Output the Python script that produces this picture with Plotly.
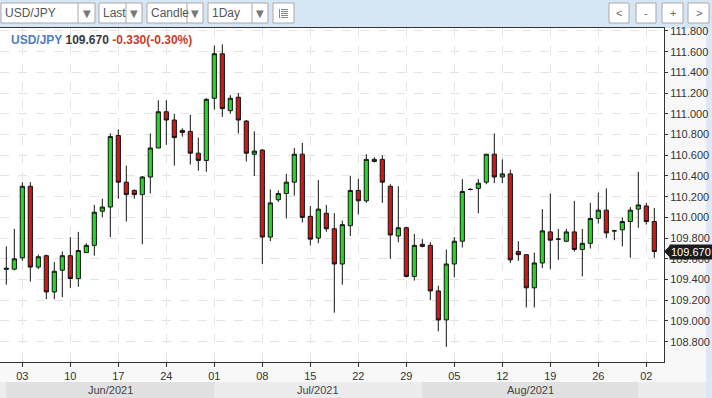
import pandas as pd
import plotly.graph_objects as go

# ---------------- data ----------------
all_days = pd.date_range("2021-06-01", "2021-09-03")
dates = [d.strftime("%Y-%m-%d") for d in all_days if d.weekday() != 5]

open_ = [109.51, 109.50, 109.61, 110.30, 109.52, 109.63, 109.28, 109.49, 109.63, 109.41,
         109.66, 109.73, 110.06, 110.10, 110.79, 110.34, 110.26, 110.22, 110.39, 110.67,
         111.02, 110.94, 110.84, 110.83, 110.62, 110.55, 111.15, 111.58, 111.03, 111.16,
         110.93, 110.61, 110.65, 109.81, 110.17, 110.23, 110.34, 110.61, 110.01, 109.80,
         110.04, 109.89, 109.55, 109.92, 110.26, 110.16, 110.54, 110.56, 110.30, 109.82,
         109.90, 109.43, 109.74, 109.73, 109.29, 109.01, 109.55, 109.77, 110.27, 110.28,
         110.34, 110.61, 110.39, 110.42, 109.67, 109.64, 109.32, 109.56, 109.86, 109.79,
         109.77, 109.86, 109.69, 109.75, 109.99, 110.07, 109.87, 109.88, 109.96, 110.08,
         110.11, 109.96]
high = [109.72, 109.89, 110.34, 110.34, 109.64, 109.64, 109.57, 109.67, 109.81, 109.86,
        109.75, 110.12, 110.18, 110.81, 110.85, 110.50, 110.27, 110.40, 110.81, 111.13,
        111.13, 111.00, 110.86, 110.99, 110.77, 111.15, 111.66, 111.67, 111.18, 111.20,
        110.94, 110.83, 110.66, 110.27, 110.26, 110.42, 110.67, 110.72, 110.11, 110.36,
        110.12, 110.04, 109.97, 110.40, 110.37, 110.61, 110.58, 110.60, 110.32, 110.30,
        109.91, 109.84, 109.79, 109.76, 109.34, 109.69, 109.81, 110.37, 110.28, 110.37,
        110.61, 110.81, 110.56, 110.46, 109.77, 109.64, 109.66, 110.08, 110.23, 109.89,
        109.89, 110.16, 109.89, 110.14, 110.24, 110.28, 109.88, 110.00, 110.10, 110.44,
        110.14, 110.09]
low = [109.35, 109.49, 109.58, 109.38, 109.50, 109.21, 109.21, 109.23, 109.32, 109.33,
       109.66, 109.63, 110.00, 109.81, 110.18, 109.96, 110.18, 109.74, 110.23, 110.67,
       110.70, 110.50, 110.78, 110.51, 110.45, 110.44, 111.04, 110.97, 111.00, 110.81,
       110.54, 110.40, 109.55, 109.77, 110.15, 109.99, 110.21, 109.95, 109.73, 109.75,
       109.86, 109.08, 109.35, 109.82, 110.03, 110.14, 110.53, 110.14, 109.60, 109.76,
       109.42, 109.39, 109.71, 109.20, 108.90, 108.75, 109.42, 109.71, 110.26, 110.04,
       110.32, 110.33, 110.33, 109.56, 109.58, 109.13, 109.13, 109.51, 109.50, 109.59,
       109.76, 109.67, 109.43, 109.70, 109.94, 109.80, 109.78, 109.72, 109.61, 109.90,
       109.93, 109.61]
close = [109.50, 109.60, 110.30, 109.52, 109.62, 109.28, 109.48, 109.63, 109.41, 109.68,
         109.73, 110.05, 110.10, 110.78, 110.34, 110.22, 110.22, 110.39, 110.67, 111.02,
         110.94, 110.77, 110.82, 110.62, 110.55, 111.14, 111.58, 111.05, 111.15, 110.94,
         110.62, 110.64, 109.81, 110.14, 110.23, 110.34, 110.61, 110.00, 109.79, 110.08,
         109.89, 109.55, 109.93, 110.26, 110.16, 110.56, 110.56, 110.34, 109.83, 109.90,
         109.43, 109.73, 109.72, 109.29, 109.01, 109.55, 109.77, 110.25, 110.27, 110.33,
         110.61, 110.39, 110.42, 109.59, 109.64, 109.32, 109.56, 109.87, 109.78, 109.79,
         109.86, 109.69, 109.75, 109.99, 110.07, 109.85, 109.87, 109.96, 110.07, 110.12,
         109.96, 109.67]

tick_dates = [d for d in dates if pd.Timestamp(d).weekday() == 3]
tick_text = [pd.Timestamp(d).strftime("%d") for d in tick_dates]
month_labels = ["Jun/2021", "Jul/2021", "Aug/2021"]

header_symbol = "USD/JPY"
header_last = "109.670"
header_change = "-0.330(-0.30%)"

# ---------------- geometry helpers (pixels -> paper) ----------------
W, H = 712, 398
ML, MR, MT, MB = 0, 48, 28, 36
PW, PH = W - ML - MR, H - MT - MB
X_RANGE = [-0.79, 82.21]
Y_RANGE = [108.6037, 111.8285]


def px(x):
    return (x - ML) / PW


def py(y):
    return (H - MB - y) / PH


def kx(k):
    return (k - X_RANGE[0]) / (X_RANGE[1] - X_RANGE[0])


FONT = "Liberation Sans, Arial, sans-serif"
GREEN = "#22da22"
RED = "#d81414"
EDGE = "#141414"

fig = go.Figure(go.Candlestick(
    x=dates, open=open_, high=high, low=low, close=close,
    increasing=dict(line=dict(color=EDGE, width=1), fillcolor=GREEN),
    decreasing=dict(line=dict(color=EDGE, width=1), fillcolor=RED),
    whiskerwidth=0, hoverinfo="skip", showlegend=False,
))

shapes = []
annotations = []

# toolbar background
shapes.append(dict(type="rect", xref="paper", yref="paper", x0=px(-5), x1=px(W + 5),
                   y0=py(28), y1=py(-5), fillcolor="#d7e6f5", line=dict(width=0), layer="below"))
# right light-blue strip
shapes.append(dict(type="rect", xref="paper", yref="paper", x0=px(706), x1=px(W + 5),
                   y0=py(H + 5), y1=py(28), fillcolor="#dce8f5", line=dict(width=0), layer="below"))
# month band row
shapes.append(dict(type="rect", xref="paper", yref="paper", x0=px(0), x1=px(706),
                   y0=py(H + 5), y1=py(382), fillcolor="#ececec", line=dict(width=0), layer="below"))

# month bands from first trading day of each month
month_keys = [d[:7] for d in dates]
starts = [i for i in range(len(dates)) if i == 0 or month_keys[i] != month_keys[i - 1]]
for m, lab in enumerate(month_labels):
    a = kx(starts[m])
    b = kx(starts[m + 1])
    if m % 2 == 0:
        shapes.append(dict(type="rect", xref="paper", yref="paper", x0=a, x1=b,
                           y0=py(H + 5), y1=py(382), fillcolor="#e1e1e1",
                           line=dict(width=0), layer="below"))
    annotations.append(dict(xref="paper", yref="paper", x=(a + b) / 2, y=py(390),
                            text=lab, showarrow=False, xanchor="center", yanchor="middle",
                            font=dict(family=FONT, size=11, color="#444")))

# dropdown boxes
dropdowns = [(1, 95, 78, "USD/JPY"), (99, 142, 126, "Last"), (147, 203, 187, "Candle"),
             (208, 268, 252, "1Day")]
for x0, x1, xd, lab in dropdowns:
    shapes.append(dict(type="rect", xref="paper", yref="paper", x0=px(x0), x1=px(x1),
                       y0=py(23), y1=py(3), fillcolor="white", line=dict(color="#a8a8a8", width=1)))
    shapes.append(dict(type="line", xref="paper", yref="paper", x0=px(xd), x1=px(xd),
                       y0=py(23), y1=py(3), line=dict(color="#a8a8a8", width=1)))
    annotations.append(dict(xref="paper", yref="paper", x=px(x0 + 2), y=py(13), text=lab,
                            showarrow=False, xanchor="left", yanchor="middle",
                            font=dict(family=FONT, size=12, color="#555")))
    annotations.append(dict(xref="paper", yref="paper", x=px((xd + x1) / 2), y=py(13.5),
                            text="▼", showarrow=False, xanchor="center", yanchor="middle",
                            font=dict(family="DejaVu Sans", size=10, color="#777")))
# list icon button
shapes.append(dict(type="rect", xref="paper", yref="paper", x0=px(273), x1=px(294),
                   y0=py(23), y1=py(3), fillcolor="white", line=dict(color="#a8a8a8", width=1)))
for yy in [9.5, 11.5, 13.5, 15.5, 17.5]:
    shapes.append(dict(type="line", xref="paper", yref="paper", x0=px(281), x1=px(288),
                       y0=py(yy), y1=py(yy), line=dict(color="#888", width=1)))
shapes.append(dict(type="line", xref="paper", yref="paper", x0=px(279.5), x1=px(279.5),
                   y0=py(9), y1=py(18), line=dict(color="#888", width=1)))

# navigation buttons
for x0, x1, lab in [(609, 629, "<"), (636, 656, "-"), (662, 683, "+"), (688, 709, ">")]:
    shapes.append(dict(type="rect", xref="paper", yref="paper", x0=px(x0), x1=px(x1),
                       y0=py(23), y1=py(3), fillcolor="white", line=dict(color="#a8a8a8", width=1)))
    annotations.append(dict(xref="paper", yref="paper", x=px((x0 + x1) / 2), y=py(13),
                            text=lab, showarrow=False, xanchor="center", yanchor="middle",
                            font=dict(family=FONT, size=11, color="#666")))

# header
annotations.append(dict(
    xref="paper", yref="paper", x=px(9), y=py(40), xanchor="left", yanchor="middle",
    showarrow=False,
    text=(f"<b><span style='color:#4d7fbf'>{header_symbol}</span> "
          f"<span style='color:#3a3a3a'>{header_last}</span> "
          f"<span style='color:#c43c2c'>{header_change}</span></b>"),
    font=dict(family=FONT, size=12)))

# last price tag
last = close[-1]
d = 6 / (PH / (Y_RANGE[1] - Y_RANGE[0]))
shapes.append(dict(type="path", xref="paper", yref="y",
                   path=f"M {px(664)},{last} L {px(670)},{last + d} L {px(670)},{last - d} Z",
                   fillcolor="#1c1c1c", line=dict(width=0)))
annotations.append(dict(xref="paper", yref="y", x=px(669), y=last, xanchor="left",
                        yanchor="middle", text=f"{last:.3f}", showarrow=False,
                        bgcolor="#1c1c1c", borderpad=1,
                        font=dict(family=FONT, size=11, color="white")))

fig.update_layout(
    width=W, height=H, autosize=False,
    margin=dict(l=ML, r=MR, t=MT, b=MB, pad=0),
    paper_bgcolor="#f8f8f9", plot_bgcolor="white",
    shapes=shapes, annotations=annotations,
    xaxis=dict(type="category", range=X_RANGE, tickvals=tick_dates, ticktext=tick_text,
               ticks="outside", ticklen=4, tickcolor="#333", showline=True, linecolor="#333",
               linewidth=1, mirror=True, showgrid=True, gridcolor="#e4e4e4", griddash="dash",
               gridwidth=1, tickfont=dict(family=FONT, size=11, color="#333"),
               rangeslider=dict(visible=False), fixedrange=True, zeroline=False),
    yaxis=dict(side="right", range=Y_RANGE, tick0=108.8, dtick=0.2, tickformat=".3f",
               ticks="outside", ticklen=3, tickcolor="#333", showline=True, linecolor="#333",
               linewidth=1, showgrid=True, gridcolor="#e4e4e4", griddash="dash",
               tickfont=dict(family=FONT, size=11, color="#333"), fixedrange=True,
               zeroline=False),
    boxgap=0.25,
)

fig.write_html("out.html", config={"displayModeBar": False},
               post_script="document.body.style.margin='0';document.body.style.overflow='hidden';")
